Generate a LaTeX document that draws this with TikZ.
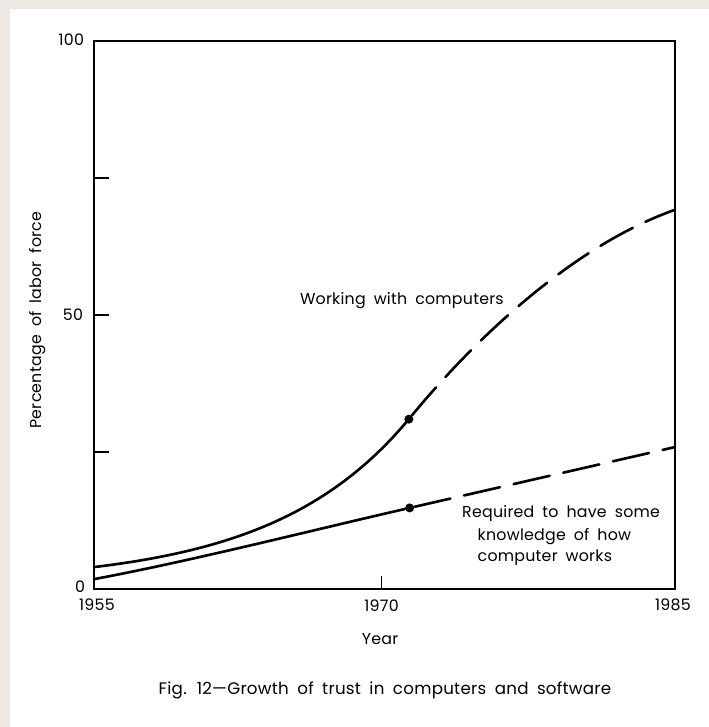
\documentclass[tikz,border=0pt]{standalone}
\usepackage{fontspec}
\setmainfont{Poppins}[WordSpace=1.8, LetterSpace=1.5]
\usetikzlibrary{positioning}
\definecolor{pagebeige}{HTML}{EEE8E2}

\tikzset{
  curve/.style={line width=1.5pt, line cap=round},
  future/.style={curve, dash pattern=on 21pt off 8pt},
  frameline/.style={line width=0.9pt},
  plaintext/.style={font=\fontsize{9}{11}\selectfont, inner sep=0pt},
  knot/.style={circle, fill=black, inner sep=0pt, minimum size=0.18cm},
}

\begin{document}
\begin{tikzpicture}[x=0.02cm, y=-0.02cm]
	% page
	\fill [pagebeige] (0,0) rectangle (709,727);
	\fill [white] (10,9) rectangle (709,727);
	\useasboundingbox (0,0) rectangle (709,727);

	% texts outside the plot
	\node [plaintext, rotate=90] (ylabel) at (38,320) {Percentage of labor force};
	\node [plaintext] (xlabel) at (380,639) {Year};
	\node [plaintext, font=\fontsize{9.5}{11}\selectfont] (caption) at (385,690) {Fig. 12—Growth of trust in computers and software};

	% plot, in years from 1955 and percent
	\begin{scope}[shift={(94,589)}, x=0.38733cm, y=0.1096cm]
	\draw [frameline] (0,0) rectangle (30,100);
	\foreach \v in {25,50,75}
		\draw [frameline] (0,\v) -- (0.75,\v);
	\draw [frameline] (14.85,0) -- (14.85,2.4);

	% tick labels
	\node [plaintext, anchor=east] (t100) at (-0.5,100.2) {100};
	\node [plaintext, anchor=east] (t50) at (-0.55,50) {50};
	\node [plaintext, anchor=east] (t0) at (-0.45,0.4) {0};
	\node [plaintext] (y1955) at (0.15,-2.9) {1955};
	\node [plaintext] (y1970) at (14.85,-3.1) {1970};
	\node [plaintext] (y1985) at (29.9,-2.9) {1985};

	% curves
	\node [knot] (work) at (16.26,31.0) {};
	\node [knot] (know) at (16.3,14.8) {};
	\coordinate (workend) at (30,69.2);
	\coordinate (knowend) at (30,25.9);

	\draw [curve] plot [domain=0:16.26, samples=40] (\x, {1+3*exp(0.1416*\x)});
	\draw [future] (work) .. controls (20,47) and (25,63) .. (workend);
	\draw [curve] (0,1.8) .. controls (5,5.1) and (11.3,10.75) .. (know);
	\draw [future] (know) -- (knowend);

	\node [plaintext] (worklabel) at (15.9,52.7) {Working with computers};
	\node [plaintext, anchor=west] (know1) at (19.0,13.7) {Required to have some};
	\node [plaintext, anchor=west] (know2) at (19.8,9.5) {knowledge of how};
	\node [plaintext, anchor=west] (know3) at (19.8,5.7) {computer works};
	\end{scope}
\end{tikzpicture}
\end{document}
